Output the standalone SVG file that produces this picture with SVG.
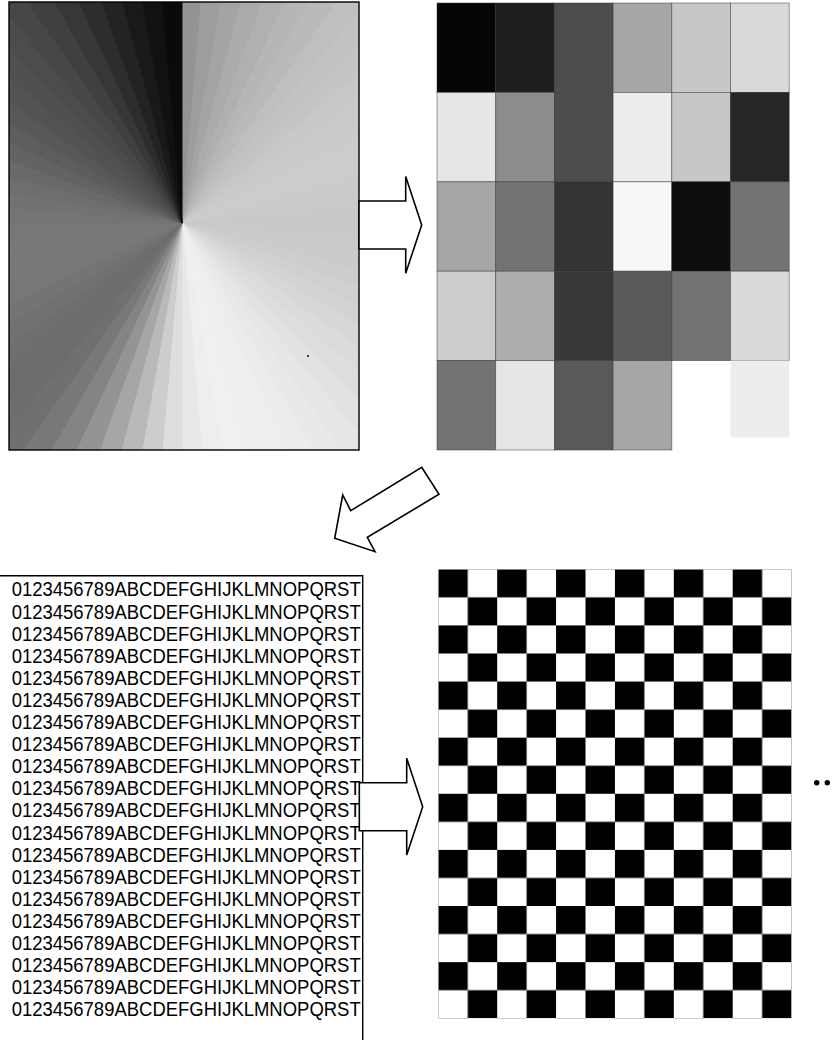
<svg xmlns="http://www.w3.org/2000/svg" width="835" height="1040" viewBox="0 0 835 1040">
<style>
.frame{fill:none;stroke:#000;stroke-width:1.4}
.arrow{fill:#fff;stroke:#000;stroke-width:1.6;stroke-linejoin:miter}
.cell{stroke:#333;stroke-width:0.8;stroke-opacity:0.6}
.txt{font-family:"Liberation Sans",Arial,sans-serif;font-size:19.5px;fill:#000}
.w{stroke-width:1}
</style>
<defs>
<clipPath id="clipGrad"><rect x="9" y="2" width="350" height="448"/></clipPath>
<pattern id="checker" patternUnits="userSpaceOnUse" x="438.3" y="569.3" width="58.88" height="56.12">
<rect x="0" y="0" width="29.44" height="28.06" fill="#000"/>
<rect x="29.44" y="28.06" width="29.44" height="28.06" fill="#000"/>
</pattern>
</defs>
<rect width="835" height="1040" fill="#fff"/>

<g id="gradient-panel">
<g clip-path="url(#clipGrad)">
<path class="w" d="M182 223L182 -277L225.6 -275.1Z" fill="#949494" stroke="#949494"/>
<path class="w" d="M182 223L225.6 -275.1L268.8 -269.4Z" fill="#9d9d9d" stroke="#9d9d9d"/>
<path class="w" d="M182 223L268.8 -269.4L311.4 -259.9Z" fill="#a4a4a4" stroke="#a4a4a4"/>
<path class="w" d="M182 223L311.4 -259.9L353 -246.9Z" fill="#ababab" stroke="#ababab"/>
<path class="w" d="M182 223L353 -246.9L393.3 -230.2Z" fill="#b0b0b0" stroke="#b0b0b0"/>
<path class="w" d="M182 223L393.3 -230.2L432 -210Z" fill="#b6b6b6" stroke="#b6b6b6"/>
<path class="w" d="M182 223L432 -210L468.8 -186.6Z" fill="#bababa" stroke="#bababa"/>
<path class="w" d="M182 223L468.8 -186.6L503.4 -160Z" fill="#bfbfbf" stroke="#bfbfbf"/>
<path class="w" d="M182 223L503.4 -160L535.6 -130.6Z" fill="#c2c2c2" stroke="#c2c2c2"/>
<path class="w" d="M182 223L535.6 -130.6L565 -98.4Z" fill="#c5c5c5" stroke="#c5c5c5"/>
<path class="w" d="M182 223L565 -98.4L591.6 -63.8Z" fill="#c8c8c8" stroke="#c8c8c8"/>
<path class="w" d="M182 223L591.6 -63.8L615 -27Z" fill="#cacaca" stroke="#cacaca"/>
<path class="w" d="M182 223L615 -27L635.2 11.7Z" fill="#cbcbcb" stroke="#cbcbcb"/>
<path class="w" d="M182 223L635.2 11.7L651.9 52Z" fill="#cccccc" stroke="#cccccc"/>
<path class="w" d="M182 223L651.9 52L664.9 93.6Z" fill="#cccccc" stroke="#cccccc"/>
<path class="w" d="M182 223L664.9 93.6L674.4 136.2Z" fill="#cbcbcb" stroke="#cbcbcb"/>
<path class="w" d="M182 223L674.4 136.2L680.1 179.4Z" fill="#cacaca" stroke="#cacaca"/>
<path class="w" d="M182 223L680.1 179.4L682 223Z" fill="#c9c9c9" stroke="#c9c9c9"/>
<path class="w" d="M182 223L682 223L680.1 266.6Z" fill="#c9c9c9" stroke="#c9c9c9"/>
<path class="w" d="M182 223L680.1 266.6L674.4 309.8Z" fill="#cacaca" stroke="#cacaca"/>
<path class="w" d="M182 223L674.4 309.8L664.9 352.4Z" fill="#cbcbcb" stroke="#cbcbcb"/>
<path class="w" d="M182 223L664.9 352.4L651.9 394Z" fill="#cdcdcd" stroke="#cdcdcd"/>
<path class="w" d="M182 223L651.9 394L635.2 434.3Z" fill="#d0d0d0" stroke="#d0d0d0"/>
<path class="w" d="M182 223L635.2 434.3L615 473Z" fill="#d3d3d3" stroke="#d3d3d3"/>
<path class="w" d="M182 223L615 473L591.6 509.8Z" fill="#d7d7d7" stroke="#d7d7d7"/>
<path class="w" d="M182 223L591.6 509.8L565 544.4Z" fill="#dbdbdb" stroke="#dbdbdb"/>
<path class="w" d="M182 223L565 544.4L535.6 576.6Z" fill="#dedede" stroke="#dedede"/>
<path class="w" d="M182 223L535.6 576.6L503.4 606Z" fill="#e2e2e2" stroke="#e2e2e2"/>
<path class="w" d="M182 223L503.4 606L468.8 632.6Z" fill="#e6e6e6" stroke="#e6e6e6"/>
<path class="w" d="M182 223L468.8 632.6L432 656Z" fill="#e9e9e9" stroke="#e9e9e9"/>
<path class="w" d="M182 223L432 656L393.3 676.2Z" fill="#ececec" stroke="#ececec"/>
<path class="w" d="M182 223L393.3 676.2L353 692.9Z" fill="#eeeeee" stroke="#eeeeee"/>
<path class="w" d="M182 223L353 692.9L311.4 705.9Z" fill="#efefef" stroke="#efefef"/>
<path class="w" d="M182 223L311.4 705.9L268.8 715.4Z" fill="#f0f0f0" stroke="#f0f0f0"/>
<path class="w" d="M182 223L268.8 715.4L225.6 721.1Z" fill="#eeeeee" stroke="#eeeeee"/>
<path class="w" d="M182 223L225.6 721.1L182 723Z" fill="#e8e8e8" stroke="#e8e8e8"/>
<path class="w" d="M182 223L182 723L138.4 721.1Z" fill="#dedede" stroke="#dedede"/>
<path class="w" d="M182 223L138.4 721.1L95.2 715.4Z" fill="#cdcdcd" stroke="#cdcdcd"/>
<path class="w" d="M182 223L95.2 715.4L52.6 705.9Z" fill="#b9b9b9" stroke="#b9b9b9"/>
<path class="w" d="M182 223L52.6 705.9L11 692.9Z" fill="#a6a6a6" stroke="#a6a6a6"/>
<path class="w" d="M182 223L11 692.9L-29.3 676.2Z" fill="#949494" stroke="#949494"/>
<path class="w" d="M182 223L-29.3 676.2L-68 656Z" fill="#848484" stroke="#848484"/>
<path class="w" d="M182 223L-68 656L-104.8 632.6Z" fill="#787878" stroke="#787878"/>
<path class="w" d="M182 223L-104.8 632.6L-139.4 606Z" fill="#707070" stroke="#707070"/>
<path class="w" d="M182 223L-139.4 606L-171.6 576.6Z" fill="#6d6d6d" stroke="#6d6d6d"/>
<path class="w" d="M182 223L-171.6 576.6L-201 544.4Z" fill="#6c6c6c" stroke="#6c6c6c"/>
<path class="w" d="M182 223L-201 544.4L-227.6 509.8Z" fill="#6e6e6e" stroke="#6e6e6e"/>
<path class="w" d="M182 223L-227.6 509.8L-251 473Z" fill="#717171" stroke="#717171"/>
<path class="w" d="M182 223L-251 473L-271.2 434.3Z" fill="#747474" stroke="#747474"/>
<path class="w" d="M182 223L-271.2 434.3L-287.9 394Z" fill="#777777" stroke="#777777"/>
<path class="w" d="M182 223L-287.9 394L-300.9 352.4Z" fill="#787878" stroke="#787878"/>
<path class="w" d="M182 223L-300.9 352.4L-310.4 309.8Z" fill="#787878" stroke="#787878"/>
<path class="w" d="M182 223L-310.4 309.8L-316.1 266.6Z" fill="#787878" stroke="#787878"/>
<path class="w" d="M182 223L-316.1 266.6L-318 223Z" fill="#777777" stroke="#777777"/>
<path class="w" d="M182 223L-318 223L-316.1 179.4Z" fill="#757575" stroke="#757575"/>
<path class="w" d="M182 223L-316.1 179.4L-310.4 136.2Z" fill="#727272" stroke="#727272"/>
<path class="w" d="M182 223L-310.4 136.2L-300.9 93.6Z" fill="#6e6e6e" stroke="#6e6e6e"/>
<path class="w" d="M182 223L-300.9 93.6L-287.9 52Z" fill="#696969" stroke="#696969"/>
<path class="w" d="M182 223L-287.9 52L-271.2 11.7Z" fill="#636363" stroke="#636363"/>
<path class="w" d="M182 223L-271.2 11.7L-251 -27Z" fill="#5d5d5d" stroke="#5d5d5d"/>
<path class="w" d="M182 223L-251 -27L-227.6 -63.8Z" fill="#585858" stroke="#585858"/>
<path class="w" d="M182 223L-227.6 -63.8L-201 -98.4Z" fill="#535353" stroke="#535353"/>
<path class="w" d="M182 223L-201 -98.4L-171.6 -130.6Z" fill="#505050" stroke="#505050"/>
<path class="w" d="M182 223L-171.6 -130.6L-139.4 -160Z" fill="#4c4c4c" stroke="#4c4c4c"/>
<path class="w" d="M182 223L-139.4 -160L-104.8 -186.6Z" fill="#474747" stroke="#474747"/>
<path class="w" d="M182 223L-104.8 -186.6L-68 -210Z" fill="#404040" stroke="#404040"/>
<path class="w" d="M182 223L-68 -210L-29.3 -230.2Z" fill="#373737" stroke="#373737"/>
<path class="w" d="M182 223L-29.3 -230.2L11 -246.9Z" fill="#2d2d2d" stroke="#2d2d2d"/>
<path class="w" d="M182 223L11 -246.9L52.6 -259.9Z" fill="#232323" stroke="#232323"/>
<path class="w" d="M182 223L52.6 -259.9L95.2 -269.4Z" fill="#191919" stroke="#191919"/>
<path class="w" d="M182 223L95.2 -269.4L138.4 -275.1Z" fill="#111111" stroke="#111111"/>
<path class="w" d="M182 223L138.4 -275.1L182 -277Z" fill="#0a0a0a" stroke="#0a0a0a"/>
</g>
<circle cx="308" cy="356" r="1" fill="#000"/>
<rect class="frame" x="9" y="2" width="350" height="448"/>
</g>

<g id="mosaic-panel">
<rect class="cell" x="437" y="3" width="58.7" height="89.4" fill="#050505"/>
<rect class="cell" x="495.7" y="3" width="58.7" height="89.4" fill="#1f1f1f"/>
<rect class="cell" x="554.4" y="3" width="58.7" height="89.4" fill="#4d4d4d"/>
<rect class="cell" x="613.1" y="3" width="58.7" height="89.4" fill="#a6a6a6"/>
<rect class="cell" x="671.8" y="3" width="58.7" height="89.4" fill="#c7c7c7"/>
<rect class="cell" x="730.5" y="3" width="58.7" height="89.4" fill="#d9d9d9"/>
<rect class="cell" x="437" y="92.4" width="58.7" height="89.4" fill="#e6e6e6"/>
<rect class="cell" x="495.7" y="92.4" width="58.7" height="89.4" fill="#8c8c8c"/>
<rect class="cell" x="554.4" y="92.4" width="58.7" height="89.4" fill="#4d4d4d"/>
<rect class="cell" x="613.1" y="92.4" width="58.7" height="89.4" fill="#ededed"/>
<rect class="cell" x="671.8" y="92.4" width="58.7" height="89.4" fill="#c7c7c7"/>
<rect class="cell" x="730.5" y="92.4" width="58.7" height="89.4" fill="#262626"/>
<rect class="cell" x="437" y="181.8" width="58.7" height="89.4" fill="#a6a6a6"/>
<rect class="cell" x="495.7" y="181.8" width="58.7" height="89.4" fill="#737373"/>
<rect class="cell" x="554.4" y="181.8" width="58.7" height="89.4" fill="#333333"/>
<rect class="cell" x="613.1" y="181.8" width="58.7" height="89.4" fill="#f7f7f7"/>
<rect class="cell" x="671.8" y="181.8" width="58.7" height="89.4" fill="#0d0d0d"/>
<rect class="cell" x="730.5" y="181.8" width="58.7" height="89.4" fill="#737373"/>
<rect class="cell" x="437" y="271.2" width="58.7" height="89.4" fill="#cccccc"/>
<rect class="cell" x="495.7" y="271.2" width="58.7" height="89.4" fill="#adadad"/>
<rect class="cell" x="554.4" y="271.2" width="58.7" height="89.4" fill="#383838"/>
<rect class="cell" x="613.1" y="271.2" width="58.7" height="89.4" fill="#595959"/>
<rect class="cell" x="671.8" y="271.2" width="58.7" height="89.4" fill="#737373"/>
<rect class="cell" x="730.5" y="271.2" width="58.7" height="89.4" fill="#d9d9d9"/>
<rect class="cell" x="437" y="360.6" width="58.7" height="89.4" fill="#737373"/>
<rect class="cell" x="495.7" y="360.6" width="58.7" height="89.4" fill="#e6e6e6"/>
<rect class="cell" x="554.4" y="360.6" width="58.7" height="89.4" fill="#595959"/>
<rect class="cell" x="613.1" y="360.6" width="58.7" height="89.4" fill="#a6a6a6"/>
<rect x="730.5" y="360.6" width="58.7" height="77" fill="#ededed"/>
</g>

<g id="text-panel">
<path class="frame" d="M0 575.7H362.7V1040"/>
<text class="txt" x="11.7" y="596.4" textLength="349" lengthAdjust="spacingAndGlyphs">0123456789ABCDEFGHIJKLMNOPQRST</text>
<text class="txt" x="11.7" y="618.5" textLength="349" lengthAdjust="spacingAndGlyphs">0123456789ABCDEFGHIJKLMNOPQRST</text>
<text class="txt" x="11.7" y="640.6" textLength="349" lengthAdjust="spacingAndGlyphs">0123456789ABCDEFGHIJKLMNOPQRST</text>
<text class="txt" x="11.7" y="662.7" textLength="349" lengthAdjust="spacingAndGlyphs">0123456789ABCDEFGHIJKLMNOPQRST</text>
<text class="txt" x="11.7" y="684.8" textLength="349" lengthAdjust="spacingAndGlyphs">0123456789ABCDEFGHIJKLMNOPQRST</text>
<text class="txt" x="11.7" y="706.9" textLength="349" lengthAdjust="spacingAndGlyphs">0123456789ABCDEFGHIJKLMNOPQRST</text>
<text class="txt" x="11.7" y="729.0" textLength="349" lengthAdjust="spacingAndGlyphs">0123456789ABCDEFGHIJKLMNOPQRST</text>
<text class="txt" x="11.7" y="751.1" textLength="349" lengthAdjust="spacingAndGlyphs">0123456789ABCDEFGHIJKLMNOPQRST</text>
<text class="txt" x="11.7" y="773.2" textLength="349" lengthAdjust="spacingAndGlyphs">0123456789ABCDEFGHIJKLMNOPQRST</text>
<text class="txt" x="11.7" y="795.3" textLength="349" lengthAdjust="spacingAndGlyphs">0123456789ABCDEFGHIJKLMNOPQRST</text>
<text class="txt" x="11.7" y="817.4" textLength="349" lengthAdjust="spacingAndGlyphs">0123456789ABCDEFGHIJKLMNOPQRST</text>
<text class="txt" x="11.7" y="839.5" textLength="349" lengthAdjust="spacingAndGlyphs">0123456789ABCDEFGHIJKLMNOPQRST</text>
<text class="txt" x="11.7" y="861.6" textLength="349" lengthAdjust="spacingAndGlyphs">0123456789ABCDEFGHIJKLMNOPQRST</text>
<text class="txt" x="11.7" y="883.7" textLength="349" lengthAdjust="spacingAndGlyphs">0123456789ABCDEFGHIJKLMNOPQRST</text>
<text class="txt" x="11.7" y="905.8" textLength="349" lengthAdjust="spacingAndGlyphs">0123456789ABCDEFGHIJKLMNOPQRST</text>
<text class="txt" x="11.7" y="927.9" textLength="349" lengthAdjust="spacingAndGlyphs">0123456789ABCDEFGHIJKLMNOPQRST</text>
<text class="txt" x="11.7" y="950.0" textLength="349" lengthAdjust="spacingAndGlyphs">0123456789ABCDEFGHIJKLMNOPQRST</text>
<text class="txt" x="11.7" y="972.1" textLength="349" lengthAdjust="spacingAndGlyphs">0123456789ABCDEFGHIJKLMNOPQRST</text>
<text class="txt" x="11.7" y="994.2" textLength="349" lengthAdjust="spacingAndGlyphs">0123456789ABCDEFGHIJKLMNOPQRST</text>
<text class="txt" x="11.7" y="1016.3" textLength="349" lengthAdjust="spacingAndGlyphs">0123456789ABCDEFGHIJKLMNOPQRST</text>
</g>

<g id="checker-panel">
<rect x="438.3" y="569.3" width="353.28" height="448.96" fill="url(#checker)"/>
</g>

<g id="ellipsis">
<circle cx="816.7" cy="782.7" r="2.7" fill="#000"/>
<circle cx="827.3" cy="782.7" r="2.7" fill="#000"/>
</g>

<g id="connectors">
<path class="arrow" d="M405.7 201H359V249H405.7V273.3L421.7 225L405.7 176.5Z"/>
<path class="arrow" d="M421.7 467.3L439 494.3L367.3 537.3L375 551.7L334.7 538.3L342.7 495L350.7 510.7Z"/>
<path class="arrow" d="M406.7 782.7H359.3V830.7H406.7V855L422.7 806.7L406.7 758.3Z"/>
</g>
</svg>
